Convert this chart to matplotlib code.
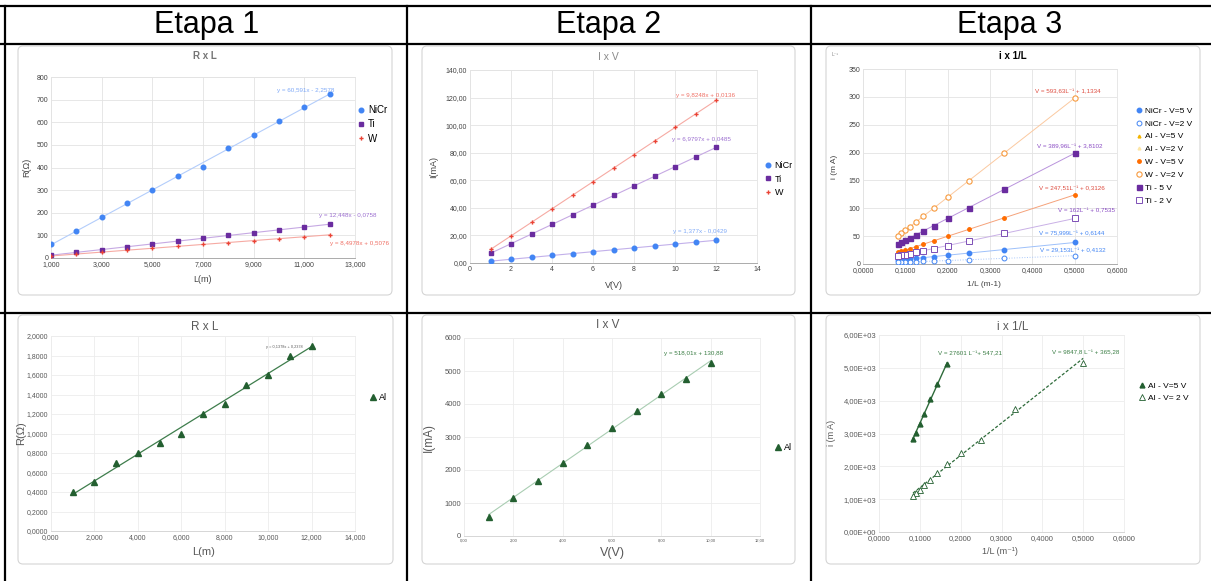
import matplotlib.pyplot as plt
from matplotlib.patches import FancyBboxPatch
from matplotlib.lines import Line2D
from matplotlib.ticker import FuncFormatter, MultipleLocator
from matplotlib.transforms import IdentityTransform

W, H = 1211, 581
plt.rcParams['font.family'] = ['Liberation Sans', 'DejaVu Sans']

# ---------------- data ----------------
etapas = ['Etapa 1', 'Etapa 2', 'Etapa 3']

# Etapa 1 - R x L
comprimento = [1, 2, 3, 4, 5, 6, 7, 8, 9, 10, 11, 12]
r_nicr = [60, 121, 182, 241, 302, 361, 404, 485, 545, 606, 667, 727]
r_ti = [13, 25, 37, 50, 62, 75, 87, 100, 112, 124, 137, 150]
r_w = [9, 18, 26, 35, 43, 51, 60, 68, 77, 86, 94, 102]
r_al = [0.4, 0.5, 0.7, 0.8, 0.9, 1.0, 1.2, 1.3, 1.5, 1.6, 1.8, 1.9]
l_ticks = [1, 3, 5, 7, 9, 11, 13]

# Etapa 2 - I x V
tensao = [1, 2, 3, 4, 5, 6, 7, 8, 9, 10, 11, 12]
i_nicr = [1.33, 2.71, 4.09, 5.47, 6.84, 8.22, 9.60, 10.97, 12.35, 13.73, 15.10, 16.48]
i_ti = [7.0, 14.0, 21.0, 28.0, 35.0, 42.0, 49.0, 56.0, 62.9, 69.8, 76.8, 83.8]
i_w = [9.8, 19.6, 29.5, 39.3, 49.1, 58.9, 68.8, 78.6, 88.4, 98.3, 108.1, 117.9]
tensao_al = [1, 2, 3, 4, 5, 6, 7, 8, 9, 10]
i_al = [567, 1143, 1680, 2226, 2762, 3268, 3774, 4300, 4755, 5241]

# Etapa 3 - i x 1/L
inv_l = [0.5, 0.3333, 0.25, 0.2, 0.1667, 0.1429, 0.125, 0.1111, 0.1, 0.0909, 0.0833]
i_nicr_5v = [38.6, 25.9, 19.6, 15.8, 13.3, 11.5, 10.1, 9.1, 8.2, 7.5, 7.0]
i_nicr_2v = [15.0, 10.1, 7.7, 6.2, 5.3, 4.6, 4.1, 3.7, 3.3, 3.1, 2.8]
i_w_5v = [124.1, 82.8, 62.2, 49.8, 41.6, 35.7, 31.3, 27.8, 25.1, 22.8, 20.9]
i_w_2v = [297.9, 199.0, 149.5, 119.9, 100.1, 86.0, 75.3, 67.1, 60.5, 55.1, 50.6]
i_ti_5v = [198.8, 133.8, 101.3, 81.8, 68.8, 59.5, 52.6, 47.1, 42.8, 39.3, 36.3]
i_ti_2v = [81.8, 54.8, 41.3, 33.2, 27.8, 23.9, 21.0, 18.7, 17.0, 15.5, 14.3]
inv_l_al5 = [0.1667, 0.1429, 0.125, 0.1111, 0.1, 0.0909, 0.0833]
i_al_5v = [5105, 4505, 4037, 3590, 3285, 3020, 2847]
i_al_2v = [5156, 3732, 2807, 2410, 2085, 1800, 1597, 1444, 1291, 1190, 1088]

# trendline coefficients (slope, intercept) as shown on the charts
fit_r = {'NiCr': (60.591, -2.2578), 'Ti': (12.448, -0.0758), 'W': (8.4978, 0.5076), 'Al': (0.1378, 0.2378)}
fit_i = {'NiCr': (1.377, -0.0429), 'Ti': (6.9797, 0.0485), 'W': (9.8248, 0.0136), 'Al': (518.01, 130.88)}
fit_inv = {'W2': (593.63, 1.1334), 'Ti5': (389.96, 3.8102), 'W5': (247.51, 0.3126),
           'Ti2': (162.0, 0.7535), 'N5': (75.999, 0.6144), 'N2': (29.153, 0.4132),
           'Al5': (27601, 547.21), 'Al2': (9847.8, 365.28)}

BLUE, PURPLE, RED = '#4285f4', '#6a2c9f', '#ea4335'
ORANGE, ORANGE2 = '#ff6d01', '#f79a3e'
GREEN = '#235f30'


def px(x, y):
    return x / W, 1 - y / H


fig = plt.figure(figsize=(W / 100, H / 100), dpi=100)


def txt(x, y, s, **kw):
    kw.setdefault('ha', 'center')
    kw.setdefault('va', 'center')
    fig.text(*px(x, y), s, **kw)


def panel(box, area, grid_color):
    l, t, r, b = box
    fig.add_artist(FancyBboxPatch((l, H - b), r - l, b - t, boxstyle='round,pad=0,rounding_size=5',
                                  transform=IdentityTransform(), fc='white', ec='#d5d5d5', lw=0.8, zorder=0))
    l, t, r, b = area
    ax = fig.add_axes([l / W, 1 - b / H, (r - l) / W, (b - t) / H])
    ax.set_facecolor('none')
    ax.grid(True, color=grid_color, lw=0.6)
    ax.set_axisbelow(True)
    for s in ax.spines.values():
        s.set_color(grid_color)
        s.set_linewidth(0.6)
    ax.tick_params(length=0, pad=2)
    return ax


def comma(dec):
    return FuncFormatter(lambda v, p: f"{v:.{dec}f}".replace('.', ','))


def trend(ax, x0, x1, coef, **kw):
    m, c = coef
    ax.plot([x0, x1], [m * x0 + c, m * x1 + c], zorder=2, **kw)


def legend(ax, x, y, fs, spacing):
    ax.legend(loc='upper left', bbox_to_anchor=px(x, y), bbox_transform=fig.transFigure,
              frameon=False, fontsize=fs, handlelength=0.7, handletextpad=0.35,
              borderpad=0, borderaxespad=0, labelspacing=spacing)


# ---------------- table ----------------
lw = 1.6
for seg in [((0, 6), (W, 6)), ((0, 44), (W, 44)), ((0, 313), (W, 313)),
            ((5, 6), (5, H)), ((407, 6), (407, H)), ((811, 6), (811, H))]:
    (x0, y0), (x1, y1) = seg
    fig.add_artist(Line2D([x0 / W, x1 / W], [1 - y0 / H, 1 - y1 / H], color='black', lw=lw))
for cx, name in zip([207, 609, 1010], etapas):
    txt(cx, 25, name, fontsize=22)

tick1 = dict(labelsize=5, labelcolor='#444444')
tick2 = dict(labelsize=5.5, labelcolor='#595959')

# ---------------- chart 1 : R x L ----------------
ax1 = panel((18, 46, 392, 295), (51, 77, 355, 258), '#e3e3e3')
ax1.spines['bottom'].set_color('#9e9e9e')
trend(ax1, 1, 12, fit_r['NiCr'], color='#b3cdfb', lw=0.8)
trend(ax1, 1, 12, fit_r['Ti'], color='#c6a9e3', lw=0.8)
trend(ax1, 1, 12, fit_r['W'], color='#f6aaa3', lw=0.8)
ax1.plot(comprimento, r_nicr, 'o', color=BLUE, ms=3.3, ls='none', label='NiCr', zorder=3)
ax1.plot(comprimento, r_ti, 's', color=PURPLE, ms=3.3, ls='none', label='Ti', zorder=3)
ax1.plot(comprimento, r_w, 'P', color=RED, ms=3, mew=0, ls='none', label='W', zorder=3)
ax1.set_xlim(1, 13)
ax1.set_ylim(0, 800)
ax1.set_xticks(l_ticks)
ax1.yaxis.set_major_locator(MultipleLocator(100))
ax1.xaxis.set_major_formatter(comma(3))
ax1.tick_params(**tick1)
legend(ax1, 358, 105, 7, 0.45)
txt(205, 56, 'R x L', fontsize=7, color='#757575', fontweight='bold')
txt(202, 279, 'L(m)', fontsize=6.5, color='#444444')
txt(27, 167, 'R(Ω)', fontsize=6.5, color='#444444', rotation=90)
txt(306, 91, 'y = 60,591x - 2,2578', fontsize=4.5, color='#7fa9f7')
txt(348, 216, 'y = 12,448x - 0,0758', fontsize=4.5, color='#9c6fd0')
txt(359, 243, 'y = 8,4978x + 0,5076', fontsize=4.5, color='#ef6f64')

# ---------------- chart 2 : I x V ----------------
ax2 = panel((422, 46, 795, 295), (470, 70, 757, 263), '#e3e3e3')
ax2.spines['bottom'].set_color('#9e9e9e')
trend(ax2, 1, 12, fit_i['W'], color='#f6aaa3', lw=0.8)
trend(ax2, 1, 12, fit_i['Ti'], color='#c6a9e3', lw=0.8)
trend(ax2, 1, 12, fit_i['NiCr'], color='#c2b0ea', lw=0.8)
ax2.plot(tensao, i_nicr, 'o', color=BLUE, ms=3.3, ls='none', label='NiCr', zorder=3)
ax2.plot(tensao, i_ti, 's', color=PURPLE, ms=3.5, ls='none', label='Ti', zorder=3)
ax2.plot(tensao, i_w, 'P', color=RED, ms=3, mew=0, ls='none', label='W', zorder=3)
ax2.set_xlim(0, 14)
ax2.set_ylim(0, 140)
ax2.xaxis.set_major_locator(MultipleLocator(2))
ax2.yaxis.set_major_locator(MultipleLocator(20))
ax2.yaxis.set_major_formatter(comma(2))
ax2.tick_params(**tick1)
legend(ax2, 765, 161, 6.5, 0.5)
txt(608, 57, 'I x V', fontsize=7.5, color='#8a8a8a')
txt(614, 285, 'V(V)', fontsize=6.5, color='#444444')
txt(434, 167, 'I(mA)', fontsize=6.5, color='#444444', rotation=90)
txt(706, 96, 'y = 9,8248x + 0,0136', fontsize=4.5, color='#ef6f64')
txt(701, 140, 'y = 6,9797x + 0,0485', fontsize=4.5, color='#9c6fd0')
txt(700, 232, 'y = 1,377x - 0,0429', fontsize=4.5, color='#7fa9f7')

# ---------------- chart 3 : i x 1/L ----------------
ax3 = panel((826, 46, 1200, 295), (863, 69, 1117, 264), '#e3e3e3')
ax3.spines['bottom'].set_color('#9e9e9e')
x0, x1 = inv_l[-1], inv_l[0]
trend(ax3, x0, x1, fit_inv['W2'], color='#fbc9a0', lw=0.7)
trend(ax3, x0, x1, fit_inv['Ti5'], color='#b993dc', lw=0.7)
trend(ax3, x0, x1, fit_inv['W5'], color='#f5a27a', lw=0.7)
trend(ax3, x0, x1, fit_inv['Ti2'], color='#c9b0e6', lw=0.7)
trend(ax3, x0, x1, fit_inv['N5'], color='#9dc0fa', lw=0.7)
trend(ax3, x0, x1, fit_inv['N2'], color='#a8c7fa', lw=0.7, ls=':')
ax3.plot(inv_l, i_nicr_5v, 'o', color=BLUE, ms=3.2, ls='none', label='NiCr - V=5 V', zorder=3)
ax3.plot(inv_l, i_nicr_2v, 'o', mec=BLUE, mfc='white', mew=0.7, ms=3.5, ls='none', label='NiCr - V=2 V', zorder=3)
ax3.plot(inv_l_al5, i_al_5v, '^', color='#f4b400', ms=2, ls='none', label='Al - V=5 V', zorder=3)
ax3.plot(inv_l, i_al_2v, '^', color='#fde6a6', ms=2, ls='none', label='Al - V=2 V', zorder=3)
ax3.plot(inv_l, i_w_5v, 'o', color=ORANGE, ms=2.5, ls='none', label='W - V=5 V', zorder=3)
ax3.plot(inv_l, i_w_2v, 'o', mec=ORANGE2, mfc='white', mew=0.8, ms=3.8, ls='none', label='W - V=2 V', zorder=3)
ax3.plot(inv_l, i_ti_5v, 's', color=PURPLE, ms=3.6, ls='none', label='Ti - 5 V', zorder=3)
ax3.plot(inv_l, i_ti_2v, 's', mec='#7d4fb6', mfc='white', mew=0.7, ms=4, ls='none', label='Ti - 2 V', zorder=3)
ax3.set_xlim(0, 0.6)
ax3.set_ylim(0, 350)
ax3.xaxis.set_major_locator(MultipleLocator(0.1))
ax3.yaxis.set_major_locator(MultipleLocator(50))
ax3.xaxis.set_major_formatter(comma(4))
ax3.tick_params(**tick1)
legend(ax3, 1136, 107, 6, 0.6)
txt(1013, 56, 'i x 1/L', fontsize=7, color='black', fontweight='bold')
txt(984, 285, '1/L (m-1)', fontsize=6, color='#444444')
txt(835, 167, 'i (m A)', fontsize=6, color='#444444', rotation=90)
txt(832, 54, 'L⁻¹', fontsize=3.5, color='#888888', ha='left')
txt(1068, 92, 'V = 593,63L⁻¹ + 1,1334', fontsize=4.5, color='#dd4b3e')
txt(1070, 147, 'V = 389,96L⁻¹ + 3,8102', fontsize=4.5, color='#8a4cc4')
txt(1072, 189, 'V = 247,51L⁻¹ + 0,3126', fontsize=4.5, color='#dd4b3e')
txt(1086, 211, 'V = 162L⁻¹ + 0,7535', fontsize=4.5, color='#8a4cc4')
txt(1072, 234, 'V = 75,999L⁻¹ + 0,6144', fontsize=4.5, color='#4285f4')
txt(1073, 251, 'V = 29,153L⁻¹ + 0,4132', fontsize=4.5, color='#4285f4')

# ---------------- chart 4 : R x L (Al) ----------------
ax4 = panel((18, 315, 393, 564), (51, 336, 355, 531), '#ececec')
ax4.spines['bottom'].set_color('#d0d0d0')
trend(ax4, 1, 12, fit_r['Al'], color='#3e7d4c', lw=0.9)
ax4.plot(comprimento, r_al, '^', color=GREEN, ms=4, ls='none', label='Al', zorder=3)
ax4.set_xlim(0, 14)
ax4.set_ylim(0, 2)
ax4.xaxis.set_major_locator(MultipleLocator(2))
ax4.yaxis.set_major_locator(MultipleLocator(0.2))
ax4.xaxis.set_major_formatter(comma(3))
ax4.yaxis.set_major_formatter(comma(4))
ax4.tick_params(labelsize=5, labelcolor='#595959')
legend(ax4, 370, 393, 6.5, 0.5)
txt(205, 327, 'R x L', fontsize=8.5, color='#595959')
txt(204, 552, 'L(m)', fontsize=8, color='#595959')
txt(21, 433, 'R(Ω)', fontsize=8, color='#595959', rotation=90)
txt(284, 347, 'y = 0,1378x + 0,2378', fontsize=2.8, color='#595959')

# ---------------- chart 5 : I x V (Al) ----------------
ax5 = panel((422, 315, 795, 564), (464, 338, 760, 536), '#ececec')
ax5.spines['bottom'].set_color('#d0d0d0')
trend(ax5, 1, 10, fit_i['Al'], color='#a9cdb2', lw=0.8)
ax5.plot(tensao_al, i_al, '^', color=GREEN, ms=4, ls='none', label='Al', zorder=3)
ax5.set_xlim(0, 12)
ax5.set_ylim(0, 6000)
ax5.xaxis.set_major_locator(MultipleLocator(2))
ax5.yaxis.set_major_locator(MultipleLocator(1000))
ax5.xaxis.set_major_formatter(comma(2))
ax5.tick_params(axis='y', **tick2)
ax5.tick_params(axis='x', labelsize=3, labelcolor='#595959')
legend(ax5, 775, 443, 6.5, 0.5)
txt(608, 325, 'I x V', fontsize=8.5, color='#595959')
txt(612, 553, 'V(V)', fontsize=9, color='#595959')
txt(429, 437, 'I(mA)', fontsize=8.5, color='#595959', rotation=90)
txt(694, 353, 'y = 518,01x + 130,88', fontsize=4.5, color='#3a7d44')

# ---------------- chart 6 : i x 1/L (Al) ----------------
ax6 = panel((826, 315, 1200, 564), (879, 335, 1124, 532), '#ececec')
ax6.spines['bottom'].set_color('#d0d0d0')
trend(ax6, inv_l_al5[-1], inv_l_al5[0], fit_inv['Al5'], color='#2e6b3a', lw=1)
trend(ax6, inv_l[-1], inv_l[0], fit_inv['Al2'], color='#2e6b3a', lw=0.9, ls=(0, (2.5, 1.5)))
ax6.plot(inv_l_al5, i_al_5v, '^', color=GREEN, ms=3.5, ls='none', label='Al - V=5 V', zorder=3)
ax6.plot(inv_l, i_al_2v, '^', mec=GREEN, mfc='white', mew=0.6, ms=3.8, ls='none', label='Al - V= 2 V', zorder=3)
ax6.set_xlim(0, 0.6)
ax6.set_ylim(0, 6000)
ax6.xaxis.set_major_locator(MultipleLocator(0.1))
ax6.yaxis.set_major_locator(MultipleLocator(1000))
ax6.xaxis.set_major_formatter(comma(4))
ax6.yaxis.set_major_formatter(FuncFormatter(lambda v, p: f"{v:.2E}".replace('.', ',')))
ax6.tick_params(**tick2)
legend(ax6, 1139, 382, 6, 0.55)
txt(1013, 327, 'i x 1/L', fontsize=8.5, color='#595959')
txt(1000, 552, '1/L (m⁻¹)', fontsize=6.5, color='#595959')
txt(832, 433, 'i (m A)', fontsize=6.5, color='#595959', rotation=90)
txt(970, 354, 'V = 27601 L⁻¹+ 547,21', fontsize=4.5, color='#3a7d44')
txt(1086, 353, 'V = 9847,8 L⁻¹ + 365,28', fontsize=4.5, color='#3a7d44')

fig.savefig('out.png', dpi=100)
